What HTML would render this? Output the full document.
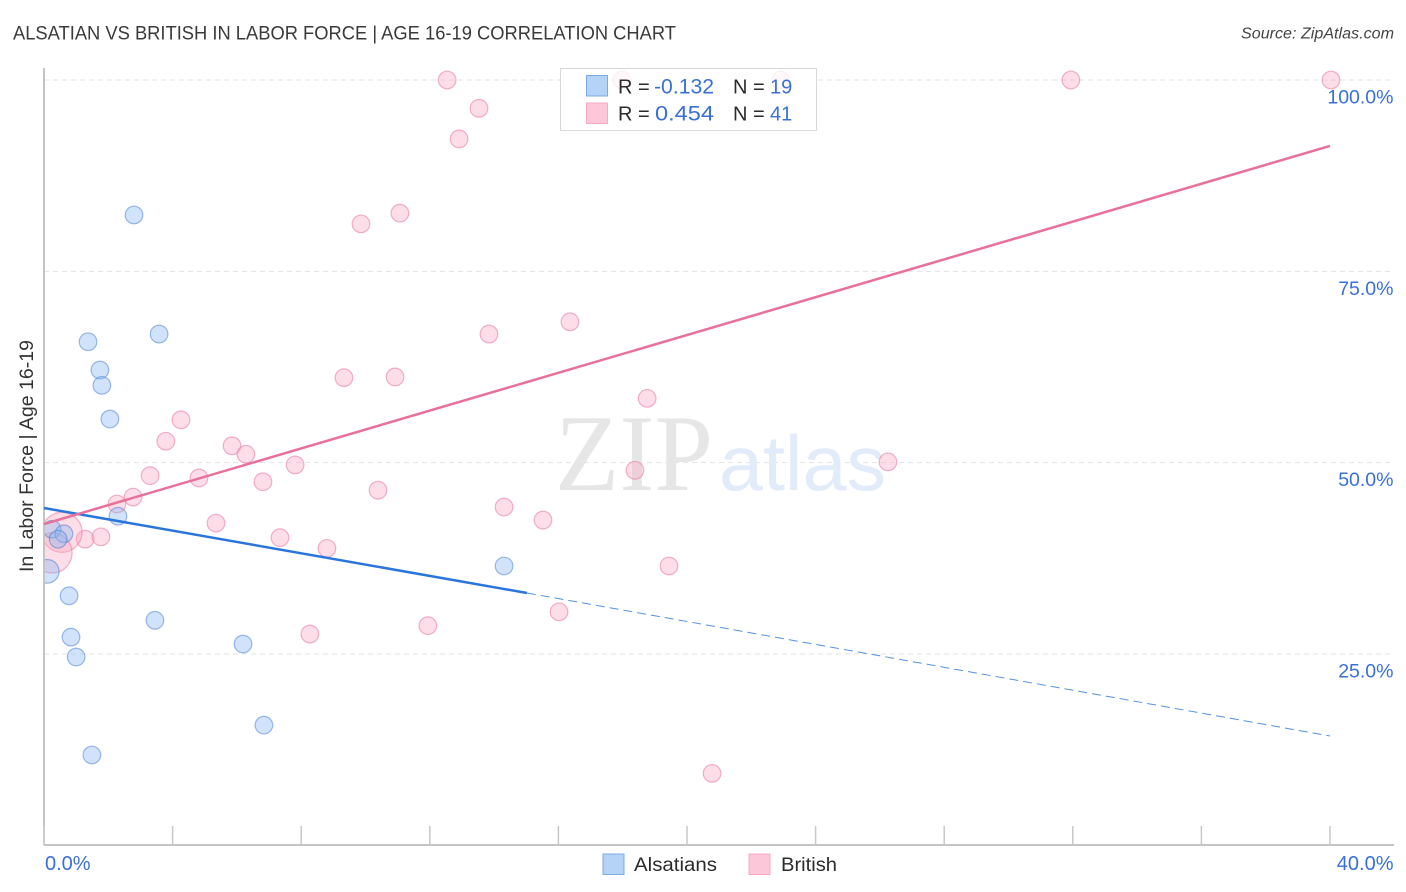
<!DOCTYPE html>
<html lang="en">
<head>
<meta charset="utf-8">
<title>Alsatian vs British in Labor Force | Age 16-19 Correlation Chart</title>
<style>
html,body{margin:0;padding:0;background:#fff;width:1406px;height:892px;overflow:hidden}
svg{display:block;font-family:"Liberation Sans",sans-serif}
</style>
</head>
<body>
<svg id="chart" xmlns="http://www.w3.org/2000/svg" width="1406" height="892" viewBox="0 0 1406 892">
  <defs>
    <clipPath id="plot-clip"><rect x="45" y="60" width="1349" height="785"/></clipPath>
  </defs>
  <text x="13" y="39.5" font-size="19" fill="#3a3a3a" textLength="663" lengthAdjust="spacingAndGlyphs">ALSATIAN VS BRITISH IN LABOR FORCE | AGE 16-19 CORRELATION CHART</text>
  <text x="1241" y="38.5" font-size="15.5" font-style="italic" fill="#444" textLength="153" lengthAdjust="spacingAndGlyphs">Source: ZipAtlas.com</text>

  <g id="grid"></g>

  <g>
    <text x="555" y="490" font-family="'Liberation Serif',serif" font-size="109" fill="#e6e6e6" textLength="158" lengthAdjust="spacingAndGlyphs">ZIP</text>
    <text x="719" y="490" font-size="78" fill="#e2ebf9" textLength="167" lengthAdjust="spacingAndGlyphs">atlas</text>
  </g>

  <line x1="44" y1="68" x2="44" y2="845" stroke="#b0b0b0" stroke-width="1.5"/>
  <line x1="44" y1="845" x2="1394" y2="845" stroke="#b0b0b0" stroke-width="1.5"/>
  <g id="xticks"></g>
  <g id="ylabels"></g>
  <g id="xlabels"></g>

  <text transform="translate(33,456) rotate(-90)" font-size="19" fill="#333" text-anchor="middle" textLength="232" lengthAdjust="spacingAndGlyphs">In Labor Force | Age 16-19</text>

  <g id="points" clip-path="url(#plot-clip)"></g>
  <g id="trends"></g>

  <g>
    <rect x="560.5" y="68.5" width="256" height="62" fill="#fff" fill-opacity="0.8" stroke="#d8d8d8" stroke-width="1"/>
    <rect x="586.5" y="75.5" width="21" height="20.5" fill="#b5d2f7" stroke="#7dabe6" stroke-width="1"/>
    <rect x="586.5" y="103" width="21" height="20.5" fill="#fcc8d9" stroke="#f5a9c2" stroke-width="1"/>
    <g font-size="20" fill="#2b2b2b">
      <text x="618" y="93.5">R =</text>
      <text x="654" y="93.5" fill="#3a70d6" font-size="21" textLength="60" lengthAdjust="spacingAndGlyphs">-0.132</text>
      <text x="733" y="93.5">N =</text>
      <text x="770" y="93.5" fill="#3a70d6">19</text>
      <text x="618" y="120.5">R =</text>
      <text x="655" y="120.5" fill="#3a70d6" font-size="21" textLength="59" lengthAdjust="spacingAndGlyphs">0.454</text>
      <text x="733" y="120.5">N =</text>
      <text x="770" y="120.5" fill="#3a70d6">41</text>
    </g>
  </g>

  <g>
    <rect x="603" y="854" width="21" height="20.5" fill="#b5d2f7" stroke="#7dabe6" stroke-width="1"/>
    <text x="634" y="871" font-size="19.5" fill="#2b2b2b" textLength="83" lengthAdjust="spacingAndGlyphs">Alsatians</text>
    <rect x="749" y="854" width="21" height="20.5" fill="#fcc8d9" stroke="#f5a9c2" stroke-width="1"/>
    <text x="781" y="871" font-size="19.5" fill="#2b2b2b" textLength="56" lengthAdjust="spacingAndGlyphs">British</text>
  </g>
</svg>
<script>
const yTickValues = [25, 50, 75, 100];
const yTickLabels = ["25.0%", "50.0%", "75.0%", "100.0%"];
const xTickValues = [0, 4, 8, 12, 16, 20, 24, 28, 32, 36, 40];
const xEndValues = [0, 40];
const xEndLabels = ["0.0%", "40.0%"];

const alsatianX = [2.80, 3.58, 1.37, 1.74, 1.80, 2.05, 2.30, 14.31, 0.25, 0.62, 0.44, 0.10, 0.78, 3.45, 0.84, 1.00, 6.19, 6.84, 1.49];
const alsatianY = [82.36, 66.8, 65.8, 62.1, 60.1, 55.7, 43.0, 36.5, 41.3, 40.7, 40.0, 35.8, 32.6, 29.4, 27.2, 24.6, 26.3, 15.7, 11.8];
const alsatianWeight = [1, 1, 1, 1, 1, 1, 1, 1, 1, 1, 1, 2, 1, 1, 1, 1, 1, 1, 1];

const britishX = [12.54, 17.98, 22.92, 31.94, 40.03, 13.53, 12.91, 9.86, 11.07, 13.84, 16.36, 9.33, 10.92, 18.76, 4.26, 3.79, 5.85, 6.28, 3.30, 4.82, 6.81, 7.81, 10.39, 18.38, 26.25, 2.77, 2.27, 14.31, 15.52, 5.35, 7.34, 1.28, 1.77, 8.80, 19.44, 16.02, 8.27, 11.94, 20.78, 0.56, 0.25];
const britishY = [100, 100, 100, 100, 100, 96.3, 92.3, 81.2, 82.6, 66.8, 68.4, 61.1, 61.2, 58.4, 55.6, 52.8, 52.2, 51.1, 48.3, 48.0, 47.5, 49.7, 46.4, 49.0, 50.1, 45.5, 44.6, 44.2, 42.5, 42.1, 40.2, 40.0, 40.3, 38.8, 36.5, 30.5, 27.6, 28.7, 9.4, 40.9, 38.2];
const britishWeight = [1, 1, 1, 1, 1, 1, 1, 1, 1, 1, 1, 1, 1, 1, 1, 1, 1, 1, 1, 1, 1, 1, 1, 1, 1, 1, 1, 1, 1, 1, 1, 1, 1, 1, 1, 1, 1, 1, 1, 6.8, 6.8];

const alsatianTrendX = [0, 15.02, 40];
const alsatianTrendY = [44.07, 32.97, 14.28];
const britishTrendX = [0, 40];
const britishTrendY = [41.98, 91.38];

const SVGNS = "http://www.w3.org/2000/svg";
function sx(v) { return 44 + v * 32.15; }
function sy(v) { return 80 + (100 - v) * 7.653; }
function sr(w) { return 8.8 * Math.pow(w, 0.43); }
function make(tag, attrs, parent) {
  const el = document.createElementNS(SVGNS, tag);
  for (const k in attrs) el.setAttribute(k, attrs[k]);
  parent.appendChild(el);
  return el;
}

const gridG = document.getElementById("grid");
const xticksG = document.getElementById("xticks");
const ylabelsG = document.getElementById("ylabels");
const xlabelsG = document.getElementById("xlabels");
const pointsG = document.getElementById("points");
const trendsG = document.getElementById("trends");

yTickValues.forEach(function (v, i) {
  const line = make("line", { x1: 44, x2: 1394, y1: sy(v), y2: sy(v), stroke: "#e2e2e2", "stroke-width": 1, "stroke-dasharray": "5 4" }, gridG);
  
  
  const t = make("text", { x: 1393.5, y: sy(v) + 23.5, "font-size": 19.5, fill: "#3a70d6", "text-anchor": "end" }, ylabelsG);
  t.textContent = yTickLabels[i];
  
  
});

xTickValues.forEach(function (v) {
  const tick = make("line", { x1: sx(v), x2: sx(v), y1: 826, y2: 845, stroke: "#c8c8c8", "stroke-width": 1.5 }, xticksG);
  
  
});

xEndValues.forEach(function (v, i) {
  const t = make("text", { x: i === 0 ? sx(v) + 1 : 1393.5, y: 870, "font-size": 20, fill: "#3a70d6", "text-anchor": i === 0 ? "start" : "end" }, xlabelsG);
  t.textContent = xEndLabels[i];
  
  
});

britishX.forEach(function (v, i) {
  const c = make("circle", { cx: sx(v), cy: sy(britishY[i]), r: sr(britishWeight[i]), fill: "#f9a9c2", "fill-opacity": 0.4, stroke: "#ea7fa3", "stroke-opacity": 0.6, "stroke-width": 1.2 }, pointsG);
  
  
});

alsatianX.forEach(function (v, i) {
  const c = make("circle", { cx: sx(v), cy: sy(alsatianY[i]), r: sr(alsatianWeight[i]), fill: "#8ab8f2", "fill-opacity": 0.4, stroke: "#3f78d0", "stroke-opacity": 0.5, "stroke-width": 1.2 }, pointsG);
  
  
});

const blueSolid = make("line", { x1: sx(alsatianTrendX[0]), y1: sy(alsatianTrendY[0]), x2: sx(alsatianTrendX[1]), y2: sy(alsatianTrendY[1]), stroke: "#2a75dc", "stroke-width": 2.5 }, trendsG);



const blueDash = make("line", { x1: sx(alsatianTrendX[1]), y1: sy(alsatianTrendY[1]), x2: sx(alsatianTrendX[2]), y2: sy(alsatianTrendY[2]), stroke: "#2a75dc", "stroke-opacity": 0.8, "stroke-width": 1, "stroke-dasharray": "9 5" }, trendsG);



const pinkLine = make("line", { x1: sx(britishTrendX[0]), y1: sy(britishTrendY[0]), x2: sx(britishTrendX[1]), y2: sy(britishTrendY[1]), stroke: "#e8709a", "stroke-width": 2.5 }, trendsG);


</script>
</body>
</html>
